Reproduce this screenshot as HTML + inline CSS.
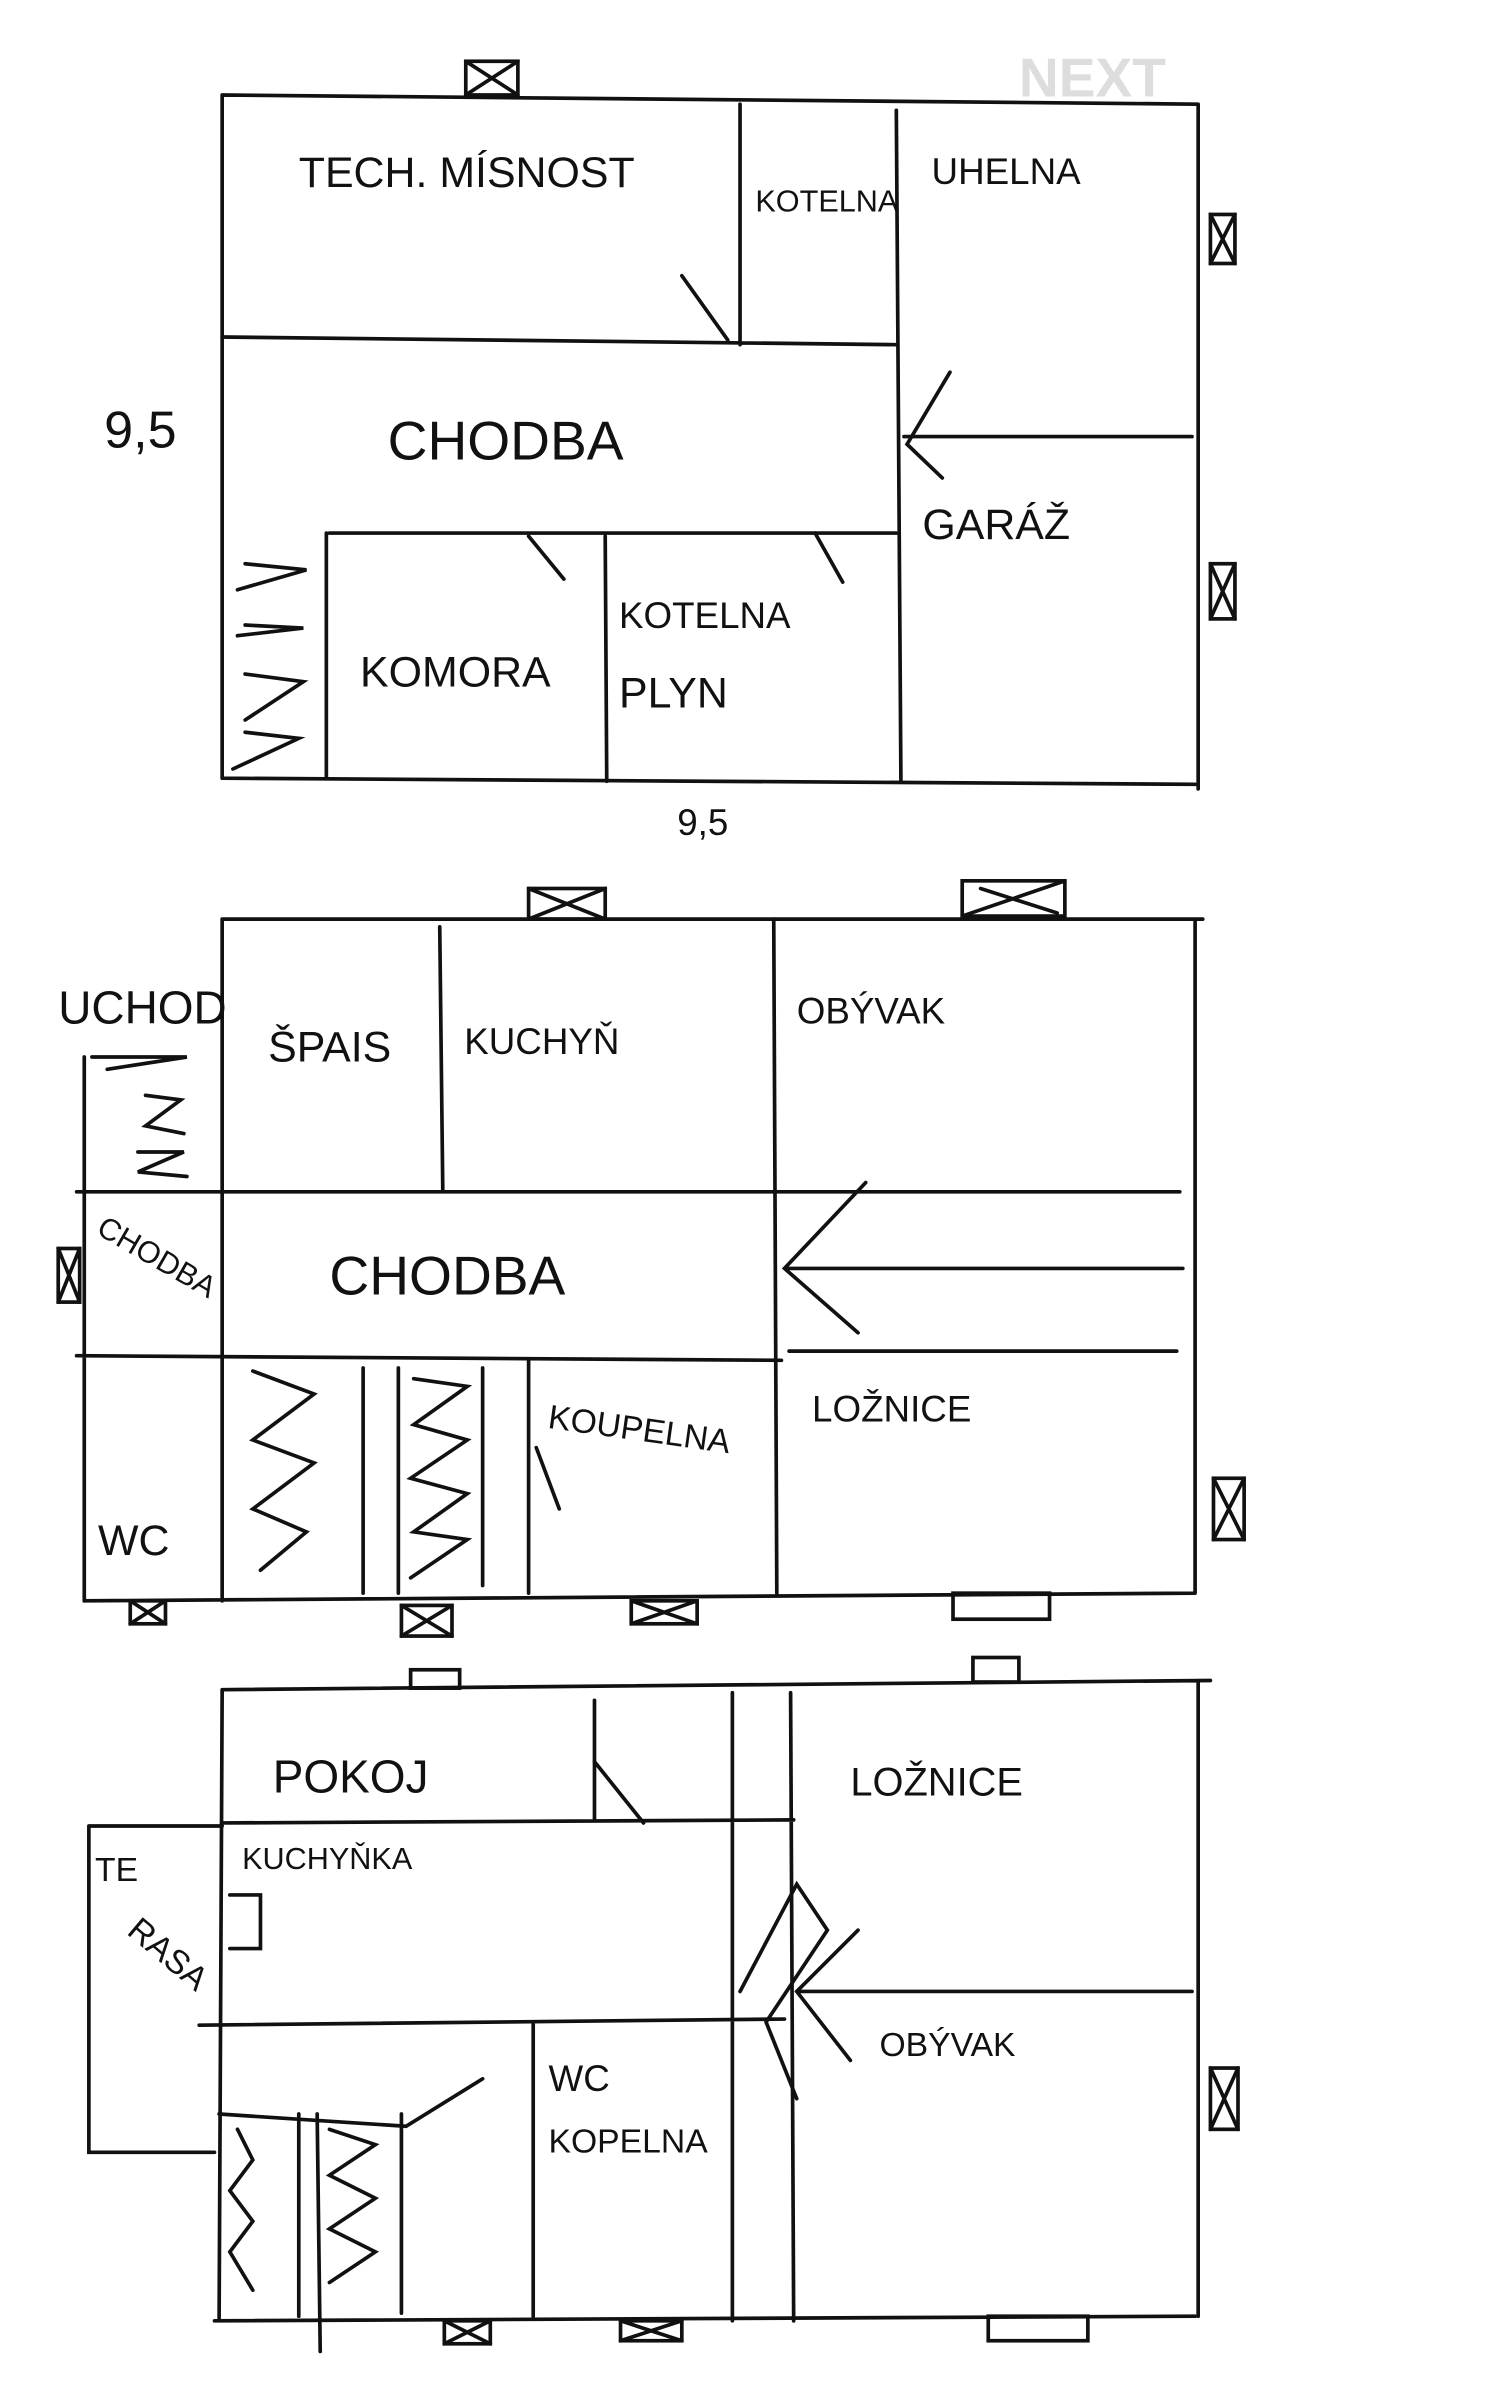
<!DOCTYPE html>
<html><head><meta charset="utf-8"><style>
html,body{margin:0;padding:0;background:#fff;width:1500px;height:2402px;overflow:hidden}
svg{display:block}
text{font-family:"Liberation Sans",sans-serif;fill:#111}
</style></head><body>
<svg width="1500" height="2402" viewBox="0 0 979 1568" preserveAspectRatio="none" xmlns="http://www.w3.org/2000/svg">
<g stroke="#111" stroke-width="2.4" fill="none" stroke-linecap="round">
<!-- TOP PLAN -->
<path d="M145 62 L782 68 M145 62 L145 508 M145 508 L780 512 M782 68 L782 515"/>
<path d="M145 220 L585 225 M483 68 L483 225 M585 72 L588 510 M590 285 L778 285 M215 348 L585 348 M213 348 L213 508 M395 350 L396 510"/>
<path d="M445 180 L475 222 M345 350 L368 378 M532 348 L550 380 M620 243 L592 290 L615 312"/>
<path d="M160 368 L200 372 L155 385 M160 408 L198 410 L155 415 M160 440 L198 445 L160 470 M160 478 L195 482 L152 502"/>
<rect x="304" y="40" width="34" height="22"/><path d="M304 40 L338 62 M338 40 L304 62"/>
<rect x="790" y="140" width="16" height="32"/><path d="M790 140 L806 172 M806 140 L790 172"/>
<rect x="790" y="368" width="16" height="36"/><path d="M790 368 L806 404 M806 368 L790 404"/>
<!-- MIDDLE PLAN -->
<path d="M145 600 L785 600 M145 600 L145 1045 M55 1045 L780 1040 M780 600 L780 1040"/>
<path d="M287 605 L289 778 M505 600 L507 1040 M50 778 L770 778 M50 885 L510 888 M515 882 L768 882 M515 828 L772 828 M565 772 L512 828 L560 870 M55 690 L55 1045"/>
<path d="M237 893 L237 1040 M260 893 L260 1040 M315 893 L315 1035 M345 888 L345 1040 M350 945 L365 985"/>
<path d="M60 690 L122 690 L70 698 M95 715 L118 718 L95 735 L120 740 M90 752 L120 752 L90 765 L122 768"/>
<path d="M165 895 L205 910 L165 940 L205 955 L165 985 L200 1000 L170 1025 M270 900 L305 905 L270 930 L305 940 L268 965 L305 975 L270 1000 L305 1005 L268 1030"/>
<rect x="345" y="580" width="50" height="20"/><path d="M345 580 L395 600 M395 580 L345 600"/>
<rect x="628" y="575" width="67" height="23"/><path d="M628 598 L695 575 M640 580 L690 596"/>
<rect x="38" y="815" width="14" height="35"/><path d="M38 815 L52 850 M52 815 L38 850"/>
<rect x="792" y="965" width="20" height="40"/><path d="M792 965 L812 1005 M812 965 L792 1005"/>
<rect x="85" y="1045" width="23" height="15"/><path d="M85 1045 L108 1060 M108 1045 L85 1060"/>
<rect x="262" y="1048" width="33" height="20"/><path d="M262 1048 L295 1068 M295 1048 L262 1068"/>
<rect x="412" y="1045" width="43" height="15"/><path d="M412 1045 L455 1060 M455 1045 L412 1060"/>
<rect x="622" y="1040" width="63" height="17"/>
<!-- BOTTOM PLAN -->
<path d="M145 1103 L790 1097 M145 1103 L143 1515 M140 1515 L780 1512 M782 1097 L782 1512"/>
<path d="M145 1190 L518 1188 M388 1110 L388 1188 M478 1105 L478 1515 M516 1105 L518 1515 M130 1322 L512 1318 M348 1320 L348 1512"/>
<path d="M143 1380 L265 1388 M195 1380 L195 1512 M262 1380 L262 1510 M207 1380 L209 1535 M265 1388 L315 1357"/>
<path d="M58 1192 L145 1192 M58 1192 L58 1405 L140 1405 M150 1237 L170 1237 L170 1272 L150 1272"/>
<path d="M555 1345 L520 1300 L560 1260 M520 1300 L778 1300 M483 1300 L520 1230 L540 1260 L500 1320 L520 1370 M388 1150 L420 1190"/>
<path d="M155 1390 L165 1410 L150 1430 L165 1450 L150 1470 L165 1495 M215 1390 L245 1400 L215 1420 L245 1435 L215 1455 L245 1470 L215 1490"/>
<rect x="268" y="1090" width="32" height="12"/>
<rect x="635" y="1082" width="30" height="16"/>
<rect x="790" y="1350" width="18" height="40"/><path d="M790 1350 L808 1390 M808 1350 L790 1390"/>
<rect x="290" y="1515" width="30" height="15"/><path d="M290 1515 L320 1530 M320 1515 L290 1530"/>
<rect x="405" y="1515" width="40" height="13"/><path d="M405 1515 L445 1528 M445 1515 L405 1528"/>
<rect x="645" y="1512" width="65" height="16"/>
</g>
<text x="665" y="63" font-size="36" style="fill:#ddd" font-weight="bold">NEXT</text>
<g font-size="28">
<text x="195" y="122">TECH. MÍSNOST</text>
<text x="493" y="138" font-size="20">KOTELNA</text>
<text x="608" y="120" font-size="24">UHELNA</text>
<text x="68" y="292" font-size="34">9,5</text>
<text x="253" y="300" font-size="36">CHODBA</text>
<text x="602" y="352">GARÁŽ</text>
<text x="235" y="448">KOMORA</text>
<text x="404" y="410" font-size="24">KOTELNA</text>
<text x="404" y="462">PLYN</text>
<text x="442" y="545" font-size="24">9,5</text>
<text x="38" y="668" font-size="30">UCHOD</text>
<text x="175" y="693">ŠPAIS</text>
<text x="303" y="688" font-size="24">KUCHYŇ</text>
<text x="520" y="668" font-size="24">OBÝVAK</text>
<text x="62" y="805" font-size="20" transform="rotate(30 62 805)">CHODBA</text>
<text x="215" y="845" font-size="36">CHODBA</text>
<text x="357" y="932" font-size="22" transform="rotate(8 357 932)">KOUPELNA</text>
<text x="530" y="928" font-size="24">LOŽNICE</text>
<text x="64" y="1015">WC</text>
<text x="178" y="1170" font-size="30">POKOJ</text>
<text x="555" y="1172" font-size="26">LOŽNICE</text>
<text x="62" y="1228" font-size="22">TE</text>
<text x="82" y="1262" font-size="22" transform="rotate(40 82 1262)">RASA</text>
<text x="158" y="1220" font-size="20">KUCHYŇKA</text>
<text x="574" y="1342" font-size="22">OBÝVAK</text>
<text x="358" y="1365" font-size="24">WC</text>
<text x="358" y="1405" font-size="22">KOPELNA</text>
</g>
</svg>
</body></html>
